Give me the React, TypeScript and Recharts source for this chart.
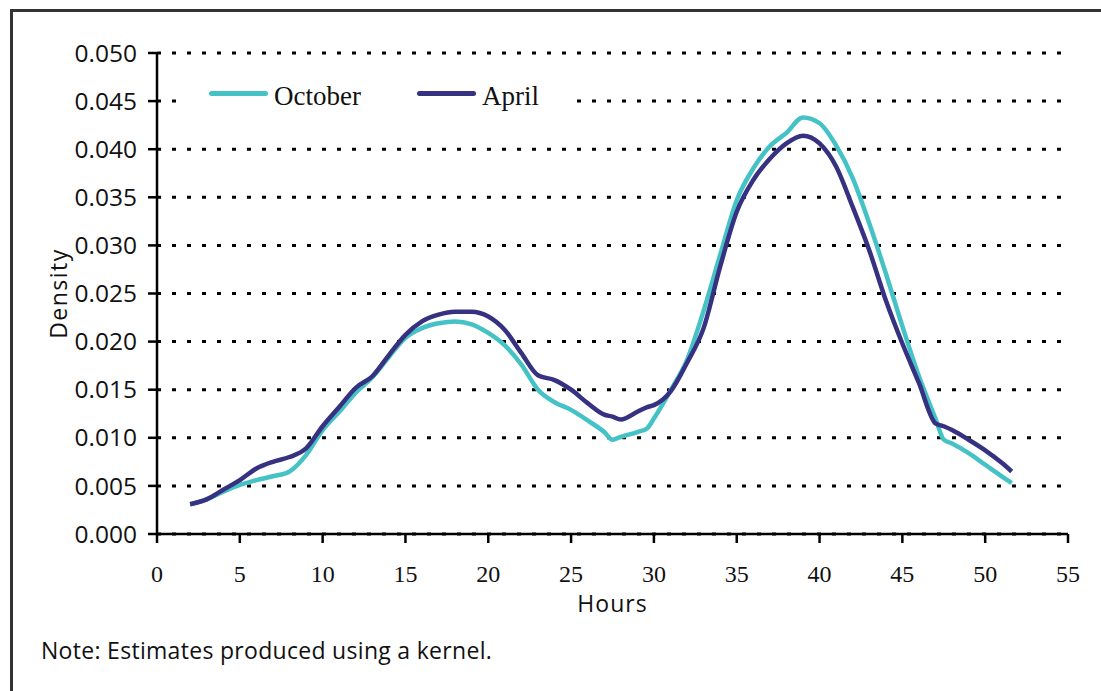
import { LineChart, Line, XAxis, YAxis, CartesianGrid } from "recharts"

const hours = [2, 3, 4, 5, 6, 7, 8, 9, 10, 11, 12, 13, 14, 15, 16, 17, 18, 19, 20, 21, 22, 23, 24, 25, 26, 27, 27.5, 28, 29, 29.6, 30, 31, 32, 33, 34, 35, 36, 37, 38, 39, 40, 41, 42, 43, 44, 45, 46, 47, 47.5, 48, 49, 50, 51, 51.6]

const october = [0.0031, 0.0036, 0.0044, 0.0051, 0.0056, 0.006, 0.0065, 0.0082, 0.0108, 0.0127, 0.0147, 0.0163, 0.0184, 0.0204, 0.0214, 0.0219, 0.0221, 0.0218, 0.0209, 0.0196, 0.0176, 0.015, 0.0137, 0.0129, 0.0118, 0.0106, 0.0098, 0.0101, 0.0106, 0.011, 0.012, 0.0149, 0.0181, 0.0232, 0.029, 0.0347, 0.038, 0.0403, 0.0417, 0.0433, 0.0427, 0.0404, 0.037, 0.0323, 0.0271, 0.0216, 0.0164, 0.012, 0.0098, 0.0094, 0.0084, 0.0072, 0.006, 0.0053]

const april = [0.0031, 0.0036, 0.0046, 0.0056, 0.0068, 0.0075, 0.008, 0.0089, 0.0112, 0.0132, 0.0152, 0.0164, 0.0186, 0.0207, 0.0221, 0.0228, 0.0231, 0.0231, 0.0226, 0.0212, 0.0188, 0.0165, 0.016, 0.015, 0.0136, 0.0124, 0.0122, 0.0119, 0.0127, 0.0132, 0.0134, 0.0148, 0.0178, 0.0214, 0.0278, 0.0335, 0.0368, 0.039, 0.0406, 0.0414, 0.0406, 0.0382, 0.034, 0.0295, 0.0243, 0.0198, 0.0157, 0.0115, 0.0112, 0.0108, 0.0098, 0.0087, 0.0074, 0.0065]

const xTicks = [0, 5, 10, 15, 20, 25, 30, 35, 40, 45, 50, 55]
const yTicks = [0, 0.005, 0.01, 0.015, 0.02, 0.025, 0.03, 0.035, 0.04, 0.045, 0.05]

const seriesNames = ["October", "April"]
const colors = { October: "#45c2c6", April: "#363181" }

const data = hours.map((h, i) => ({ hours: h, October: october[i], April: april[i] }))

const sans = "'Open Sans', sans-serif"
const serif = "'Liberation Serif', serif"

export default function App() {
  return (
    <div style={{ position: "absolute", left: 0, top: 0, width: 1101, height: 691, overflow: "hidden", background: "#fff" }}>
      {/* frame, only left and top edges show */}
      <div style={{ position: "absolute", left: 10, top: 9, width: 1200, height: 800, borderLeft: "3px solid #333", borderTop: "3px solid #333" }} />

      <LineChart width={1101} height={691} data={data} margin={{ top: 53, right: 33, left: 57, bottom: 77 }} style={{ position: "absolute", left: 0, top: 0 }}>
        <CartesianGrid horizontal vertical={false} stroke="#000" strokeWidth={3} strokeDasharray="4 11" />
        <XAxis
          type="number"
          dataKey="hours"
          domain={[0, 55]}
          ticks={xTicks}
          height={80}
          axisLine={{ stroke: "#000", strokeWidth: 2.5 }}
          tickLine={{ stroke: "#000", strokeWidth: 2.5 }}
          tickSize={9}
          tickMargin={22}
          tick={{ fill: "#111", fontSize: 24, fontFamily: serif }}
          label={{ value: "Hours", position: "insideBottom", offset: 2, style: { fill: "#111", fontSize: 23, letterSpacing: 1, fontFamily: sans } }}
        />
        <YAxis
          type="number"
          domain={[0, 0.05]}
          ticks={yTicks}
          width={100}
          axisLine={{ stroke: "#000", strokeWidth: 2.5 }}
          tickLine={{ stroke: "#000", strokeWidth: 2.5 }}
          tickSize={9}
          tickMargin={11}
          tickFormatter={(v: number) => v.toFixed(3)}
          tick={{ fill: "#111", fontSize: 24.5, fontFamily: sans }}
          label={{ value: "Density", angle: -90, position: "insideLeft", offset: 2, style: { textAnchor: "middle", fill: "#111", fontSize: 23, letterSpacing: 1.5, fontFamily: sans } }}
        />
        <Line type="monotone" dataKey="October" stroke={colors.October} strokeWidth={4.5} dot={false} isAnimationActive={false} />
        <Line type="monotone" dataKey="April" stroke={colors.April} strokeWidth={4.5} dot={false} isAnimationActive={false} />
      </LineChart>

      {/* legend box, white so it hides the gridline behind it */}
      <div style={{ position: "absolute", left: 177, top: 68, width: 396, height: 52, background: "#fff" }}>
        {seriesNames.map((name, i) => {
          const left = (i === 0 ? 209 : 417) - 177
          return (
            <div key={name} style={{ position: "absolute", left, top: 8, height: 34, display: "flex", alignItems: "center" }}>
              <div style={{ width: 59, height: 5, borderRadius: 3, background: colors[name as keyof typeof colors] }} />
              <span style={{ marginLeft: 6, marginTop: 5, fontFamily: serif, fontSize: 27, color: "#111", lineHeight: "34px" }}>{name}</span>
            </div>
          )
        })}
      </div>

      <div style={{ position: "absolute", left: 41, top: 639, fontFamily: sans, fontSize: 23, letterSpacing: 0.3, lineHeight: 1, color: "#111" }}>
        Note: Estimates produced using a kernel.
      </div>
    </div>
  )
}
